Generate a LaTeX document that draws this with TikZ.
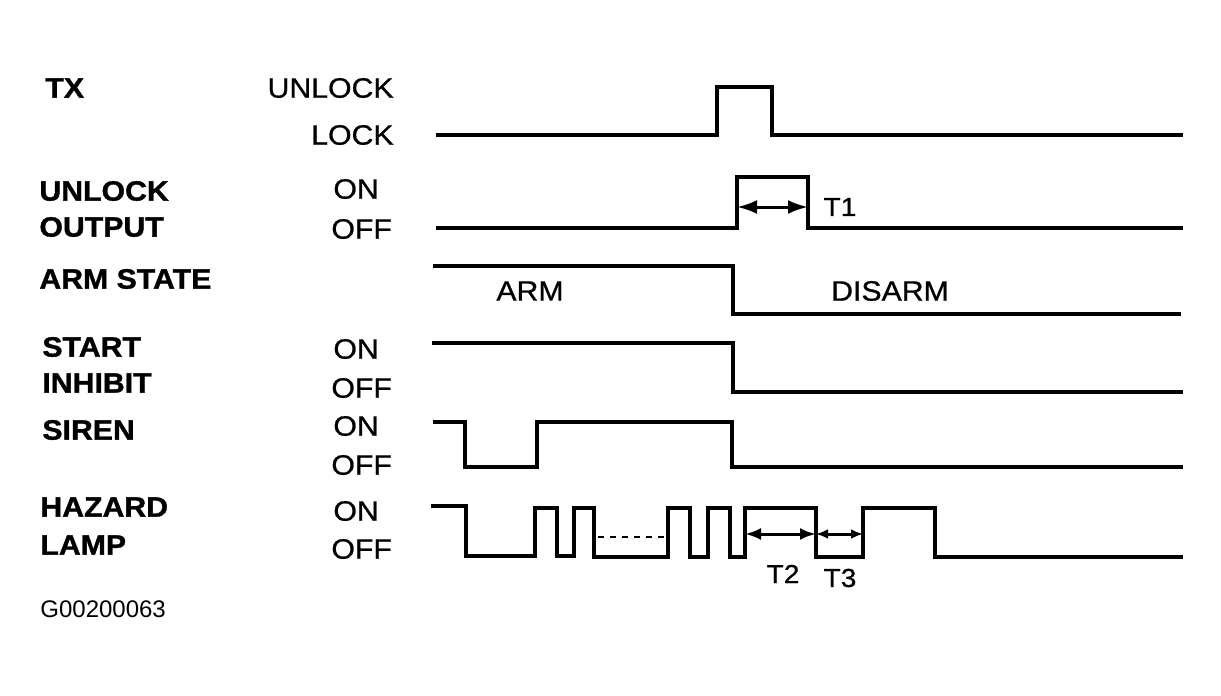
\documentclass[tikz,border=0pt]{standalone}
\usepackage{fontspec}
\setmainfont{Liberation Sans}[FakeStretch=1.08]
\newfontfamily\levelfont{Liberation Sans}[FakeStretch=1.08,FakeBold=0.8]
\newfontfamily\namefont{Liberation Sans Bold}[FakeStretch=1.08,FakeBold=1.2]
\newfontfamily\plainfont{Liberation Sans}
\usetikzlibrary{arrows.meta}

\begin{document}
\begin{tikzpicture}[x=0.5pt,y=-0.5pt,
		sig/.style={line width=1.8pt,line join=miter},
		sname/.style={anchor=west,inner sep=0pt,font=\namefont\fontsize{14}{14}\selectfont},
		slevel/.style={inner sep=0pt,font=\levelfont\fontsize{14}{14}\selectfont},
		tlabel/.style={inner sep=0pt,font=\levelfont\fontsize{13}{13}\selectfont},
		span/.style={line width=1.5pt,{Latex[length=10pt,width=7pt]}-{Latex[length=10pt,width=7pt]}}]
			\useasboundingbox (0,0) rectangle (1221,696);
			% signal names
			\node[sname] (tx) at (45,88) {TX};
			\node[sname] (uo1) at (39,191) {UNLOCK};
			\node[sname] (uo2) at (39,227) {OUTPUT};
			\node[sname] (arm) at (39,279) {ARM STATE};
			\node[sname] (si1) at (42,347) {START};
			\node[sname] (si2) at (42,383) {INHIBIT};
			\node[sname] (sir) at (42,430) {SIREN};
			\node[sname] (hz1) at (40,507) {HAZARD};
			\node[sname] (hz2) at (40,545) {LAMP};
			\node[anchor=west,inner sep=0pt,font=\plainfont\fontsize{12}{12}\selectfont] (fig) at (40,609) {G00200063};
			% levels
			\node[slevel,anchor=east] (txu) at (394,88) {UNLOCK};
			\node[slevel,anchor=east] (txl) at (394,135) {LOCK};
			\node[slevel,anchor=west] (uon) at (333,189) {ON};
			\node[slevel,anchor=west] (uoff) at (331,229) {OFF};
			\node[slevel,anchor=west] (sion) at (333,349) {ON};
			\node[slevel,anchor=west] (sioff) at (331,388) {OFF};
			\node[slevel,anchor=west] (siron) at (333,426) {ON};
			\node[slevel,anchor=west] (siroff) at (331,465) {OFF};
			\node[slevel,anchor=west] (hzon) at (333,511) {ON};
			\node[slevel,anchor=west] (hzoff) at (331,549) {OFF};
			\node[slevel] (armlab) at (530,291) {ARM};
			\node[slevel] (disarm) at (890,291) {DISARM};
			% waveforms
			\draw[sig] (436,135) -- (717,135) |- (772,87) |- (1183,135);
			\draw[sig] (436,228) -- (737,228) |- (808,177) |- (1183,228);
			\draw[sig] (433,266) -- (733,266) |- (1181,314);
			\draw[sig] (432,343) -- (733,343) |- (1183,392);
			\draw[sig] (433,422) -- (465,422) |- (537,467) |- (732,422) |- (1183,467);
			\draw[sig] (431,506) -- (466,506) |- (535,556) |- (557,508) |- (574,556) |- (594,508)
				|- (668,557) |- (690,508) |- (708,557) |- (730,508) |- (745,557) |- (816,508)
				|- (863,557) |- (935,508) |- (1183,557);
			\draw[line width=1.2pt,dashed] (598,537) -- (667,537);
			% timing spans
			\coordinate (t1a) at (737,207);
			\coordinate (t1b) at (808,207);
			\coordinate (t2a) at (745,534);
			\coordinate (t2b) at (816,534);
			\coordinate (t3b) at (863,534);
			\draw[span] (t1a) -- (t1b);
			\draw[span,{Latex[length=8pt,width=6pt]}-{Latex[length=8pt,width=6pt]}] (t2a) -- (t2b);
			\draw[span,{Latex[length=6pt,width=5pt]}-{Latex[length=6pt,width=5pt]}] (t2b) -- (t3b);
			\node[tlabel] (t1) at (840,207) {T1};
			\node[tlabel] (t2) at (783,574) {T2};
			\node[tlabel] (t3) at (840,578) {T3};
		\end{tikzpicture}
\end{document}
